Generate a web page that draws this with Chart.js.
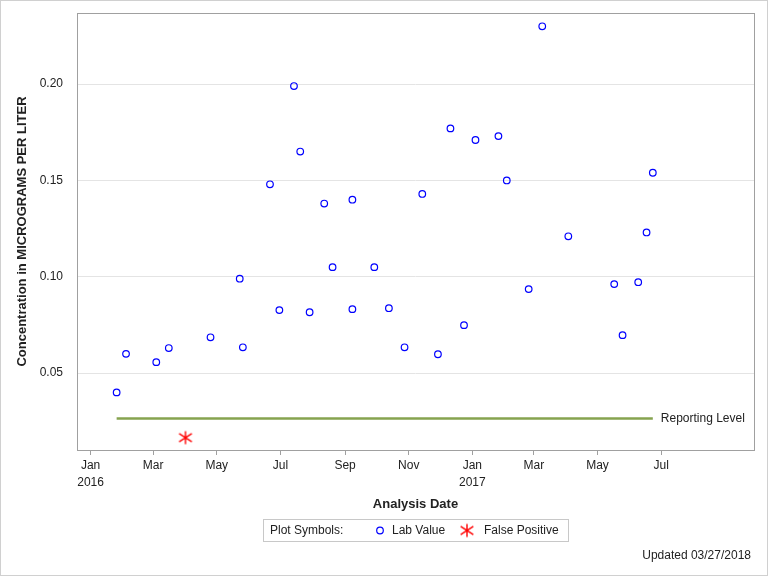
<!DOCTYPE html>
<html>
<head>
<meta charset="utf-8">
<script src="https://cdn.jsdelivr.net/npm/chart.js@4/dist/chart.umd.min.js"></script>
<style>
	body { margin: 0; background: #ffffff; }
	#chartBox { width: 768px; height: 576px; }
</style>
</head>
<body>
<div id="chartBox"><canvas id="concChart" width="768" height="576"></canvas></div>
<script>
// sample dates and lab values
const sampleDates = [
	"2016-01-26", "2016-02-04", "2016-03-04", "2016-03-16", "2016-04-25",
	"2016-05-23", "2016-05-26", "2016-06-21", "2016-06-30", "2016-07-14",
	"2016-07-20", "2016-07-29", "2016-08-12", "2016-08-20", "2016-09-08",
	"2016-09-08", "2016-09-29", "2016-10-13", "2016-10-28", "2016-11-14",
	"2016-11-29", "2016-12-11", "2016-12-24", "2017-01-04", "2017-01-26",
	"2017-02-03", "2017-02-24", "2017-03-09", "2017-04-03", "2017-05-17",
	"2017-05-25", "2017-06-09", "2017-06-17", "2017-06-23"
];
const labValues = [
	0.040, 0.060, 0.0557, 0.063, 0.0686,
	0.099, 0.0634, 0.148, 0.0827, 0.199,
	0.165, 0.0816, 0.138, 0.105, 0.140,
	0.0832, 0.105, 0.0837, 0.0634, 0.143,
	0.0598, 0.177, 0.0749, 0.171, 0.173,
	0.150, 0.0936, 0.230, 0.121, 0.0962,
	0.0697, 0.0972, 0.123, 0.154
];

const falsePositiveDates = ["2016-04-01"];
const falsePositiveValues = [0.0165];

const reportingLevel = 0.0264;

const xTickDates = [
	"2016-01-01", "2016-03-01", "2016-05-01", "2016-07-01", "2016-09-01", "2016-11-01",
	"2017-01-01", "2017-03-01", "2017-05-01", "2017-07-01"
];
const xTickLabels = [
	["Jan", "2016"], "Mar", "May", "Jul", "Sep", "Nov",
	["Jan", "2017"], "Mar", "May", "Jul"
];
const yTickValues = [0.05, 0.10, 0.15, 0.20];

// axis range: mid Dec 2015 to end of Sep 2017, y from ~0.010 to ~0.237
const xMinDate = "2015-12-19";
const xMaxDate = "2017-09-28";
const yMin = 0.0101;
const yMax = 0.2369;

const BASE_DAY = Date.UTC(2016, 0, 1);

function dayIndex(dateText) {
	const parts = dateText.split("-");
	const stamp = Date.UTC(Number(parts[0]), Number(parts[1]) - 1, Number(parts[2]));
	return (stamp - BASE_DAY) / 86400000;
}

function toPoints(dates, values) {
	return dates.map(function (d, i) {
		return { x: dayIndex(d), y: values[i] };
	});
}

// six-armed asterisk: one vertical arm and two flat diagonals
function makeStar(size, color) {
	const c = document.createElement("canvas");
	c.width = size;
	c.height = size;
	const g = c.getContext("2d");
	const mid = size / 2;
	g.strokeStyle = color;
	g.lineWidth = 1.4;
	g.beginPath();
	g.moveTo(mid, mid - 6.6);
	g.lineTo(mid, mid + 6.6);
	[33, 147].forEach(function (deg) {
		const a = deg * Math.PI / 180;
		const r = 7.6;
		g.moveTo(mid - r * Math.cos(a), mid - r * Math.sin(a));
		g.lineTo(mid + r * Math.cos(a), mid + r * Math.sin(a));
	});
	g.stroke();
	return c;
}

const starMark = makeStar(16, "#ff0000");
const labPoints = toPoints(sampleDates, labValues);
const levelPoints = [
	{ x: dayIndex(sampleDates[0]), y: reportingLevel },
	{ x: dayIndex(sampleDates[sampleDates.length - 1]), y: reportingLevel }
];

const TEXT_COLOR = "#222222";
const FONT_FAMILY = "'Liberation Sans', Arial, sans-serif";

const framePlugin = {
	id: "frameAndNotes",
	afterDraw: function (chart) {
		const ctx = chart.ctx;
		const area = chart.chartArea;
		ctx.save();

		// outer border
		ctx.strokeStyle = "#d0d0d0";
		ctx.lineWidth = 1;
		ctx.strokeRect(0.5, 0.5, chart.width - 1, chart.height - 1);

		// plot frame
		ctx.strokeStyle = "#a0a0a0";
		ctx.strokeRect(area.left + 0.5, area.top + 0.5, area.right - area.left, area.bottom - area.top);

		// reporting level label next to the end of its line
		const yScale = chart.scales.y;
		const xScale = chart.scales.x;
		ctx.fillStyle = TEXT_COLOR;
		ctx.font = "12px " + FONT_FAMILY;
		ctx.textBaseline = "middle";
		ctx.textAlign = "left";
		ctx.fillText("Reporting Level", xScale.getPixelForValue(levelPoints[1].x) + 8, yScale.getPixelForValue(reportingLevel));

		// legend box
		const midY = 530.5;
		ctx.strokeStyle = "#c8c8c8";
		ctx.strokeRect(263.5, 519.5, 305, 22);
		ctx.fillText("Plot Symbols:", 270, midY);

		ctx.strokeStyle = "#0000ff";
		ctx.lineWidth = 1.2;
		ctx.beginPath();
		ctx.arc(380, midY, 3.3, 0, Math.PI * 2);
		ctx.stroke();
		ctx.fillText(chart.data.datasets[0].label, 392, midY);

		ctx.drawImage(starMark, 467 - 8, midY - 8);
		ctx.fillText(chart.data.datasets[1].label, 484, midY);

		// footnote
		ctx.textAlign = "right";
		ctx.fillText("Updated 03/27/2018", 751, 556);

		ctx.restore();
	}
};

new Chart(document.getElementById("concChart"), {
	type: "scatter",
	data: {
		datasets: [
			{
				label: "Lab Value",
				data: labPoints,
				pointStyle: "circle",
				pointRadius: 3.3,
				pointHoverRadius: 3.3,
				borderColor: "#0000ff",
				backgroundColor: "rgba(0,0,0,0)",
				borderWidth: 1.2,
				order: 1
			},
			{
				label: "False Positive",
				data: toPoints(falsePositiveDates, falsePositiveValues),
				pointStyle: starMark,
				pointRadius: 8,
				order: 1
			},
			{
				label: "Reporting Level",
				type: "line",
				data: levelPoints,
				borderColor: "#86a34f",
				borderWidth: 2.5,
				pointRadius: 0,
				fill: false,
				order: 2
			}
		]
	},
	options: {
		responsive: false,
		animation: false,
		devicePixelRatio: 1,
		layout: {
			padding: { left: 0, right: 14, top: 13, bottom: 0 }
		},
		plugins: {
			legend: { display: false },
			tooltip: { enabled: false }
		},
		scales: {
			x: {
				type: "linear",
				min: dayIndex(xMinDate),
				max: dayIndex(xMaxDate),
				border: { display: false },
				grid: {
					drawOnChartArea: false,
					drawTicks: true,
					tickLength: 5,
					color: "#a0a0a0"
				},
				afterBuildTicks: function (scale) {
					scale.ticks = xTickDates.map(function (d) {
						return { value: dayIndex(d) };
					});
				},
				afterFit: function (scale) {
					scale.height = 126;
					scale.paddingLeft = 0;
					scale.paddingRight = 0;
				},
				ticks: {
					autoSkip: false,
					maxRotation: 0,
					padding: 3,
					color: TEXT_COLOR,
					font: { family: FONT_FAMILY, size: 12, lineHeight: 1.35 },
					callback: function (value, index) {
						return xTickLabels[index];
					}
				},
				title: {
					display: true,
					text: "Analysis Date",
					color: TEXT_COLOR,
					font: { family: FONT_FAMILY, size: 13, weight: "bold" },
					padding: { top: 0, bottom: 64 }
				}
			},
			y: {
				min: yMin,
				max: yMax,
				border: { display: false },
				grid: {
					drawTicks: false,
					color: "#e4e4e4"
				},
				afterBuildTicks: function (scale) {
					scale.ticks = yTickValues.map(function (v) {
						return { value: v };
					});
				},
				afterFit: function (scale) {
					scale.width = 77;
					scale.paddingTop = 0;
					scale.paddingBottom = 0;
				},
				ticks: {
					padding: 14,
					color: TEXT_COLOR,
					font: { family: FONT_FAMILY, size: 12 },
					callback: function (value) {
						return value.toFixed(2);
					}
				},
				title: {
					display: true,
					text: "Concentration in MICROGRAMS PER LITER",
					color: TEXT_COLOR,
					font: { family: FONT_FAMILY, size: 13, weight: "bold" },
					padding: { top: 15, bottom: 0 }
				}
			}
		}
	},
	plugins: [framePlugin]
});
</script>
</body>
</html>
